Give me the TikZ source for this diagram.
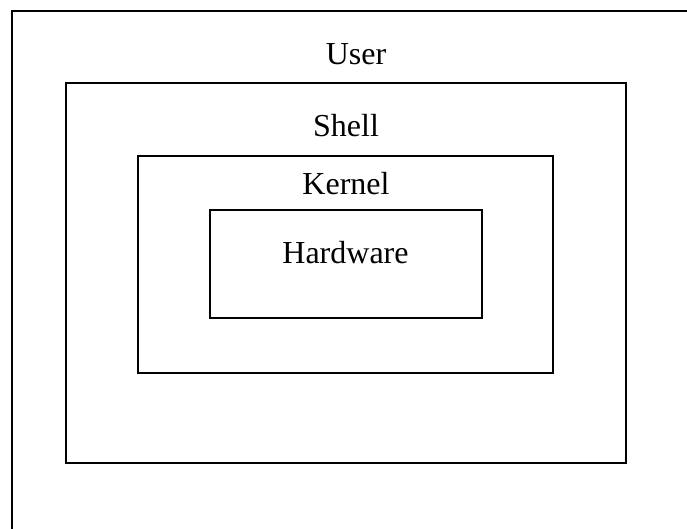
\documentclass[tikz,border=0pt]{standalone}
\usepackage{fontspec}
\setmainfont{Liberation Serif}
\begin{document}
\begin{tikzpicture}[x=1pt,y=-1pt,
  layer/.style={draw=black,line width=1.6pt,fill=none},
  lbl/.style={anchor=base,inner sep=0pt,font=\fontsize{32}{32}\selectfont}]
\clip (0,0) rectangle (687,529);
\fill[white] (0,0) rectangle (687,529);
\draw[layer] (12,11) rectangle (700,545);
\draw[layer] (66,83) rectangle (626,463);
\draw[layer] (138,156) rectangle (553,373);
\draw[layer] (210,210) rectangle (482,318);
\node[lbl] (user) at (356,65) {User};
\node[lbl] (shell) at (346,137) {Shell};
\node[lbl] (kernel) at (346,195) {Kernel};
\node[lbl] (hw) at (345.5,263) {Hardware};
\end{tikzpicture}
\end{document}
